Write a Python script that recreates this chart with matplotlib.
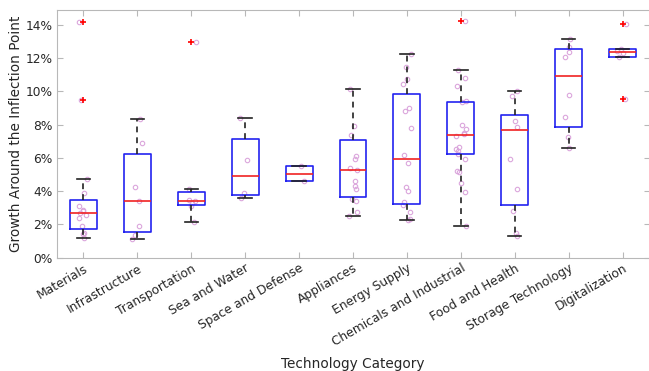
import matplotlib
matplotlib.use("Agg")
import matplotlib.pyplot as plt
import numpy as np

categories = [
    "Materials", "Infrastructure", "Transportation", "Sea and Water",
    "Space and Defense", "Appliances", "Energy Supply",
    "Chemicals and Industrial", "Food and Health", "Storage Technology",
    "Digitalization",
]

# box statistics, growth in %
q1 = [1.71, 1.53, 3.15, 3.77, 4.61, 3.67, 3.23, 6.26, 3.17, 7.85, 12.06]
medians = [2.71, 3.39, 3.39, 4.90, 5.05, 5.28, 5.96, 7.36, 7.68, 10.93, 12.38]
q3 = [3.49, 6.22, 3.97, 7.14, 5.50, 7.10, 9.83, 9.39, 8.60, 12.54, 12.54]
whisker_lo = [1.17, 1.11, 2.15, 3.61, 4.61, 2.49, 2.25, 1.93, 1.29, 6.62, 12.06]
whisker_hi = [4.74, 8.35, 4.15, 8.41, 5.50, 10.15, 12.26, 11.29, 10.05, 13.14, 12.56]
outliers = [[14.18, 9.47], [], [12.96], [], [], [], [], [14.24], [], [], [14.06, 9.53]]

# individual observations per category, growth in %
observations = [
    [14.18, 9.47, 4.74, 3.87, 3.13, 2.87, 2.80, 2.67, 2.55, 2.37, 1.91, 1.50, 1.40, 1.17],
    [8.35, 6.88, 4.24, 3.39, 1.93, 1.37, 1.11],
    [12.96, 4.15, 3.45, 3.39, 3.31, 3.09, 2.15],
    [8.41, 5.90, 3.91, 3.61],
    [5.50, 4.61],
    [10.15, 7.92, 7.40, 6.12, 5.96, 5.38, 5.28, 4.61, 4.31, 4.11, 3.53, 3.43, 2.75, 2.49],
    [12.26, 11.47, 10.73, 10.43, 9.03, 8.83, 7.82, 6.16, 5.72, 4.27, 4.01,
     3.33, 3.17, 2.75, 2.33, 2.25],
    [14.24, 11.29, 10.79, 10.33, 9.45, 9.39, 8.00, 7.72, 7.52, 7.45, 7.30,
     6.68, 6.55, 6.42, 6.25, 5.92, 5.22, 5.15, 4.48, 3.97, 1.93],
    [10.05, 9.75, 8.23, 7.88, 5.92, 4.15, 2.83, 1.47, 1.29],
    [13.14, 12.70, 12.40, 12.09, 9.79, 8.45, 7.24, 6.62],
    [14.06, 12.56, 12.45, 12.30, 12.06, 9.53],
]

plt.rcParams["font.family"] = "DejaVu Sans"

fig = plt.figure(figsize=(6.49, 3.71), dpi=100)
ax = fig.add_axes([56.5 / 649, (371 - 257.7) / 371, 593 / 649, 247.7 / 371])

positions = np.arange(1, len(categories) + 1)

# jittered observations behind the boxes
rng = np.random.default_rng(3)
for pos, obs in zip(positions, observations):
    offsets = rng.uniform(-0.1, 0.1, len(obs))
    ax.plot(pos + offsets, np.array(obs) / 100, "o", ms=3.2, mfc="none",
            mec="#dba6dc", mew=0.8, zorder=1)

stats = []
for i, name in enumerate(categories):
    stats.append({
        "label": name,
        "q1": q1[i] / 100,
        "med": medians[i] / 100,
        "q3": q3[i] / 100,
        "whislo": whisker_lo[i] / 100,
        "whishi": whisker_hi[i] / 100,
        "fliers": np.array(outliers[i]) / 100,
    })

ax.bxp(stats, positions=positions, widths=0.5, showfliers=True,
       boxprops=dict(color="#2323f0", lw=1.2),
       medianprops=dict(color="#f02323", lw=1.2),
       whiskerprops=dict(color="#222222", lw=1.2, ls=(0, (3.5, 3))),
       capprops=dict(color="#222222", lw=1.2),
       capwidths=0.25,
       flierprops=dict(marker="+", mec="#ff0000", mew=1.2, ms=4,
                       ls="none"),
       zorder=2)

ax.set_xlim(0.5, 11.5)
ax.set_ylim(0, 0.149)
yticks = np.arange(0, 0.141, 0.02)
ax.set_yticks(yticks)
ax.set_yticklabels([f"{int(round(v * 100))}%" for v in yticks])
ax.set_xticks(positions)
ax.set_xticklabels(categories, rotation=30, ha="right", rotation_mode="anchor")

for side in ["left", "right", "top", "bottom"]:
    ax.spines[side].set_color("#b8b8b8")
    ax.spines[side].set_linewidth(0.8)
ax.tick_params(direction="in", top=True, right=True, length=4,
               color="#b8b8b8", labelsize=8.8, labelcolor="#262626",
               width=0.8, pad=3)

ax.set_ylabel("Growth Around the Inflection Point", fontsize=9.8,
              color="#262626", labelpad=2)
ax.set_xlabel("Technology Category", fontsize=9.8, color="#262626",
              labelpad=6)

fig.savefig("out.png", dpi=100)
